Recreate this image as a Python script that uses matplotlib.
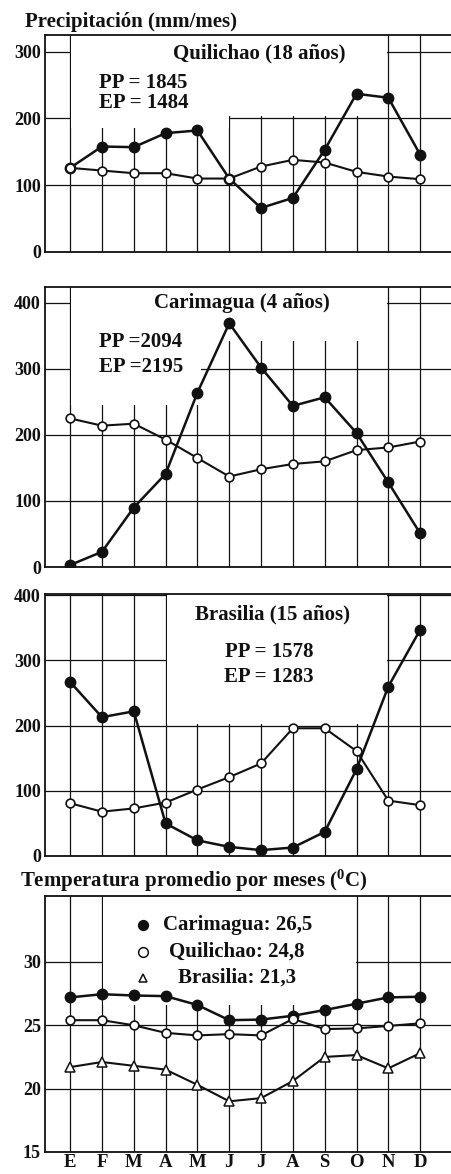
import numpy as np
import matplotlib.pyplot as plt
from matplotlib.patches import Rectangle

plt.rcParams.update(
    {
        "font.family": ["Liberation Serif", "DejaVu Serif"],
        "font.weight": "bold",
        "mathtext.fontset": "custom",
        "mathtext.rm": "Liberation Serif:bold",
        "mathtext.it": "Liberation Serif:italic:bold",
        "axes.linewidth": 1.3,
    }
)

months = ["E", "F", "M", "A", "M", "J", "J", "A", "S", "O", "N", "D"]

# precipitation (PP) and potential evaporation (EP), mm/month
quil_pp = [126, 158, 157, 178, 182, 110, 66, 81, 153, 237, 231, 146]
quil_ep = [126, 122, 118, 118, 110, 110, 128, 138, 134, 120, 113, 109]
cari_pp = [3, 23, 90, 141, 264, 369, 302, 244, 257, 203, 128, 51]
cari_ep = [225, 214, 217, 193, 165, 137, 148, 156, 160, 177, 181, 190]
bras_pp = [267, 213, 222, 50, 24, 14, 9, 13, 37, 133, 260, 347]
bras_ep = [81, 68, 73, 82, 102, 121, 142, 196, 196, 161, 85, 78]

# mean monthly temperature, deg C
temp_cari = [27.2, 27.45, 27.35, 27.3, 26.6, 25.4, 25.45, 25.75, 26.2, 26.7, 27.2, 27.25]
temp_quil = [25.4, 25.4, 25.0, 24.4, 24.2, 24.3, 24.2, 25.5, 24.7, 24.75, 24.95, 25.15]
temp_bras = [21.7, 22.1, 21.8, 21.5, 20.3, 19.0, 19.25, 20.6, 22.5, 22.65, 21.6, 22.8]

W, H = 451, 1174
INK = "#111111"
x = np.arange(12)


def add_panel(fig, top, bottom, left=45):
    ax = fig.add_axes([left / W, 1 - bottom / H, (W - left) / W, (bottom - top) / H])
    ax.set_xlim(-0.79, 11.97)
    ax.spines["right"].set_visible(False)
    for s in ax.spines.values():
        s.set_color(INK)
    ax.tick_params(axis="y", length=0, pad=3, labelsize=13, labelcolor=INK)
    ax.tick_params(axis="x", length=0)
    ax.set_xticks(x)
    ax.set_xticklabels([])
    ax.grid(True, color=INK, linewidth=0.9, zorder=0)
    ax.set_axisbelow(True)
    return ax


def blank(ax, x0, x1, y0, y1):
    # white area where the grid is left out behind the labels
    ax.add_patch(Rectangle((x0, y0), x1 - x0, y1 - y0, facecolor="white",
                           edgecolor="none", zorder=1))


def rain_lines(ax, pp, ep):
    ax.plot(x, pp, color=INK, lw=1.8, marker="o", ms=7.5, mfc=INK, mec=INK, zorder=3)
    ax.plot(x, ep, color=INK, lw=1.5, marker="o", ms=6.3, mfc="white", mec=INK,
            mew=1.2, zorder=4)


fig = plt.figure(figsize=(W / 100, H / 100), dpi=100)
fs = 15

fig.text(25 / W, 1 - 22 / H, "Precipitación (mm/mes)", fontsize=fs, va="center",
         ha="left", color=INK)

# Quilichao
ax1 = add_panel(fig, 35, 252)
ax1.set_ylim(0, 325)
ax1.set_yticks([0, 100, 200, 300])
blank(ax1, 0.03, 5.0, 186, 325)
blank(ax1, 5.0, 9.97, 203, 325)
rain_lines(ax1, quil_pp, quil_ep)
ax1.text(5.94, 297, "Quilichao (18 años)", fontsize=fs, ha="center", va="center", color=INK)
ax1.text(0.9, 253, "PP = 1845", fontsize=fs, ha="left", va="center", color=INK)
ax1.text(0.9, 223, "EP = 1484", fontsize=fs, ha="left", va="center", color=INK)

# Carimagua
ax2 = add_panel(fig, 287, 567)
ax2.set_ylim(0, 424)
ax2.set_yticks([0, 100, 200, 300, 400])
blank(ax2, 0.03, 4.1, 246, 424)
blank(ax2, 4.1, 9.97, 342, 424)
rain_lines(ax2, cari_pp, cari_ep)
ax2.text(5.4, 400, "Carimagua (4 años)", fontsize=fs, ha="center", va="center", color=INK)
ax2.text(0.9, 341, "PP =2094", fontsize=fs, ha="left", va="center", color=INK)
ax2.text(0.9, 303, "EP =2195", fontsize=fs, ha="left", va="center", color=INK)

# Brasilia
ax3 = add_panel(fig, 594, 856)
ax3.set_ylim(0, 402)
ax3.set_yticks([0, 100, 200, 300, 400])
blank(ax3, 3.03, 9.97, 203, 402)
rain_lines(ax3, bras_pp, bras_ep)
ax3.text(6.35, 370, "Brasilia (15 años)", fontsize=fs, ha="center", va="center", color=INK)
ax3.text(6.25, 313, "PP = 1578", fontsize=fs, ha="center", va="center", color=INK)
ax3.text(6.25, 275, "EP = 1283", fontsize=fs, ha="center", va="center", color=INK)

fig.text(20 / W, 1 - 881 / H, r"Temperatura promedio por meses ($^{0}$C)", fontsize=fs,
         va="center", ha="left", color=INK)

# Temperature
ax4 = add_panel(fig, 896, 1152)
ax4.set_ylim(15, 35.2)
ax4.set_yticks([15, 20, 25, 30])
blank(ax4, 1.03, 8.97, 26.6, 35.2)
ax4.plot(x, temp_cari, color=INK, lw=1.8, marker="o", ms=7.5, mfc=INK, mec=INK, zorder=3)
ax4.plot(x, temp_quil, color=INK, lw=1.5, marker="o", ms=6.3, mfc="white", mec=INK,
         mew=1.2, zorder=4)
ax4.plot(x, temp_bras, color=INK, lw=1.5, marker="^", ms=6.8, mfc="white", mec=INK,
         mew=1.1, zorder=4)
ax4.set_xticklabels(months, fontsize=13.5, color=INK)
ax4.tick_params(axis="x", pad=1.5)

# key
key = [("o", INK, "Carimagua: 26,5", 32.9),
       ("o", "white", "Quilichao: 24,8", 30.8),
       ("^", "white", "Brasilia: 21,3", 28.75)]
for mk, fc, label, yk in key:
    ax4.plot([2.29], [yk], marker=mk, ms=7 if mk == "o" else 5.5, mfc=fc, mec=INK,
             mew=1.1, ls="none", zorder=5)
    ax4.text(5.25, yk, label, fontsize=fs, ha="center", va="center", color=INK)

fig.savefig("out.png", dpi=100)
